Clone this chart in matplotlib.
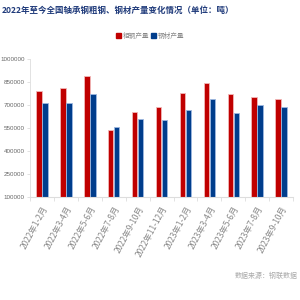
import matplotlib
matplotlib.use("Agg")
import matplotlib.pyplot as plt
import numpy as np
from matplotlib.patches import Rectangle

plt.rcParams['font.family'] = ['Noto Sans CJK SC', 'DejaVu Sans']

categories = ["2022年1-2月", "2022年3-4月", "2022年5-6月", "2022年7-8月", "2022年9-10月",
              "2022年11-12月", "2023年1-2月", "2023年3-4月", "2023年5-6月", "2023年7-8月", "2023年9-10月"]
crude = [793000, 811000, 887000, 535000, 656000, 687000, 780000, 843000, 772000, 754000, 737000]
rolled = [711000, 711000, 770000, 554000, 607000, 600000, 669000, 737000, 648000, 698000, 685000]
yticks = [100000, 250000, 400000, 550000, 700000, 850000, 1000000]

red = "#C00000"
blue = "#003D8C"

fig = plt.figure(figsize=(3, 3), dpi=100)
ax = fig.add_axes([0.1, 0.343, 0.877, 0.46])
x = np.arange(len(categories))
w = 0.23
ax.bar(x - 0.125, crude, width=w, color=red, edgecolor="#F2B8B8", linewidth=0.6, bottom=0)
ax.bar(x + 0.125, rolled, width=w, color=blue, edgecolor="#9DB8E0", linewidth=0.6, bottom=0)
ax.set_ylim(100000, 1000000)
ax.set_xlim(-0.5, len(categories) - 0.5)
ax.set_yticks(yticks)
ax.set_yticklabels([str(v) for v in yticks], fontsize=4.5, color="#666666", family="Liberation Sans")
ax.set_xticks(x)
ax.set_xticklabels(categories, rotation=62, ha="right", rotation_mode="anchor", fontsize=6,
                   color="#888888", style="italic")
ax.set_xticks(np.arange(len(categories) + 1) - 0.5, minor=True)
ax.tick_params(axis="x", which="major", length=0, pad=5)
ax.tick_params(axis="x", which="minor", length=3, color="#DDDDDD", width=0.6)
ax.tick_params(axis="y", length=2.5, color="#DDDDDD", width=0.6, pad=1.2)
for s in ["top", "right"]:
    ax.spines[s].set_visible(False)
ax.spines["left"].set_color("#DDDDDD")
ax.spines["bottom"].set_color("#DDDDDD")
ax.spines["left"].set_linewidth(0.6)
ax.spines["bottom"].set_linewidth(0.8)

fig.text(0.005, 0.965, "2022年至今全国轴承钢粗钢、钢材产量变化情况（单位：吨）", fontsize=6.1,
         fontweight="bold", color="#1F3A7A", ha="left", va="center")

# legend
fig.legend(handles=[Rectangle((0, 0), 1, 1, color=red), Rectangle((0, 0), 1, 1, color=blue)],
           labels=["粗钢产量", "钢材产量"], loc="center", bbox_to_anchor=(0.5, 0.88),
           ncol=2, frameon=False, fontsize=4.8, labelcolor="#888888",
           handlelength=0.7, handleheight=0.9, handletextpad=0.3, columnspacing=0.3)

fig.text(0.993, 0.08, "数据来源：钢联数据", fontsize=5, color="#AAAAAA", ha="right", va="center")

fig.savefig("out.png", dpi=100)
